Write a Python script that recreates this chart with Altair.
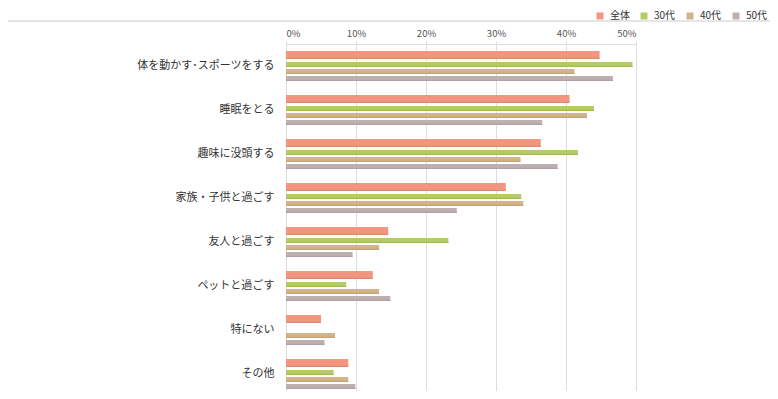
import altair as alt
import pandas as pd

categories = ["体を動かす･スポーツをする", "睡眠をとる", "趣味に没頭する", "家族・子供と過ごす",
              "友人と過ごす", "ペットと過ごす", "特にない", "その他"]
series = ["全体", "30代", "40代", "50代"]
v_all = [44.8, 40.5, 36.4, 31.4, 14.6, 12.4, 5.0, 8.9]
v_30 = [49.5, 44.0, 41.7, 33.6, 23.2, 8.6, 0.0, 6.8]
v_40 = [41.2, 43.0, 33.5, 33.9, 13.3, 13.3, 7.0, 8.9]
v_50 = [46.7, 36.6, 38.8, 24.4, 9.5, 14.9, 5.5, 9.9]
tick_values = [0, 10, 20, 30, 40, 50]

colors = ["#F4967F", "#B4CB66", "#D3B48A", "#BEB0B0"]
shadow = ["#E0887A", "#A3BA58", "#C2A47C", "#ADA0A0"]
# style: bar thickness and vertical offset from band centre (px)
heights = [8, 5, 5, 5]
offsets = [-11, -1.5, 5.5, 12.5]

rows = []
for s, vals in zip(series, [v_all, v_30, v_40, v_50]):
    for c, v in zip(categories, vals):
        rows.append({"cat": c, "series": s, "value": v})
df = pd.DataFrame(rows)

font = "Noto Sans CJK JP"

x_scale = alt.Scale(domain=[0, 50], nice=False)
y_scale = alt.Scale(domain=categories, range=[0, 352], paddingInner=0, paddingOuter=0)
color_scale = alt.Scale(domain=series, range=colors)

layers = []
for i, s in enumerate(series):
    base = alt.Chart(df).transform_filter(alt.datum.series == s)
    if i == 0:
        x_enc = alt.X("value:Q", scale=x_scale, title=None,
                      axis=alt.Axis(orient="top", values=tick_values, labelExpr="datum.value + '%'",
                                    grid=True, gridColor="#dddddd", gridWidth=1,
                                    domain=False, tickSize=3, tickColor="#dddddd",
                                    labelFontSize=9.5, labelColor="#555555", labelPadding=3,
                                    labelFont=font))
        y_enc = alt.Y("cat:N", scale=y_scale, sort=categories, title=None,
                      axis=alt.Axis(orient="left", domain=False, ticks=False, grid=False,
                                    labelPadding=12, labelFontSize=11, labelColor="#333333",
                                    labelFont=font))
    else:
        x_enc = alt.X("value:Q", scale=x_scale)
        y_enc = alt.Y("cat:N", scale=y_scale, sort=categories)
    bar = base.mark_bar(height=heights[i], yOffset=offsets[i]).encode(
        x=x_enc, y=y_enc,
        color=alt.Color("series:N", scale=color_scale, sort=series,
                        legend=alt.Legend(title=None, orient="none", direction="horizontal",
                                          legendX=309, legendY=-33, symbolType="square",
                                          symbolSize=49, symbolStrokeWidth=0,
                                          labelFontSize=10, labelColor="#333333", labelFont=font,
                                          columnPadding=9, labelOffset=5, symbolOffset=0,
                                          padding=0))
    )
    sh = base.mark_bar(height=1.2, yOffset=offsets[i] + heights[i] / 2 - 0.6,
                       color=shadow[i]).encode(
        x=alt.X("value:Q", scale=x_scale),
        y=alt.Y("cat:N", scale=y_scale, sort=categories),
    )
    layers += [bar, sh]

top_rule = alt.Chart(pd.DataFrame({"a": [0]})).mark_rule(color="#cccccc", strokeWidth=1).encode(
    x=alt.value(-278), x2=alt.value(484), y=alt.value(-23)
)

chart = alt.layer(*layers, top_rule).properties(
    width=350, height=347,
    padding={"left": 278, "top": 36, "right": 134, "bottom": 0},
    autosize="none",
).configure_view(stroke=None).configure(font=font)

chart.save("out.html", embed_options={"renderer": "svg", "actions": False})
